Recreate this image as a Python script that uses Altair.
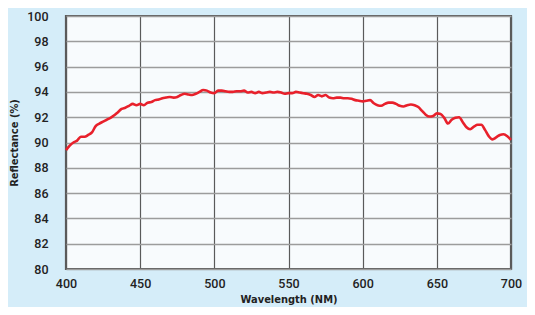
import altair as alt
import pandas as pd

wavelength = [400, 402.5, 405, 407.5, 410, 412.5, 415, 417.5, 420, 422.5, 425, 427.5, 430, 432.5, 435, 437.5, 440,
              442.5, 445, 447.5, 450, 452.5, 455, 457.5, 460, 462.5, 465, 467.5, 470, 472.5, 475, 477.5, 480,
              482.5, 485, 487.5, 490, 492.5, 495, 497.5, 500, 502.5, 505, 507.5, 510, 512.5, 515, 517.5, 520,
              522.5, 525, 527.5, 530, 532.5, 535, 537.5, 540, 542.5, 545, 547.5, 550, 552.5, 555, 557.5, 560,
              562.5, 565, 567.5, 570, 572.5, 575, 577.5, 580, 582.5, 585, 587.5, 590, 592.5, 595, 597.5, 600,
              602.5, 605, 607.5, 610, 612.5, 615, 617.5, 620, 622.5, 625, 627.5, 630, 632.5, 635, 637.5, 640,
              642.5, 645, 647.5, 650, 652.5, 655, 657.5, 660, 662.5, 665, 667.5, 670, 672.5, 675, 677.5, 680,
              682.5, 685, 687.5, 690, 692.5, 695, 697.5, 700]
reflectance = [89.4, 89.75, 90.0, 90.15, 90.45, 90.45, 90.6, 90.8, 91.3, 91.5, 91.65, 91.8, 91.95, 92.15, 92.4, 92.65, 92.75,
               92.9, 93.05, 92.95, 93.05, 92.95, 93.15, 93.2, 93.35, 93.4, 93.5, 93.55, 93.6, 93.55, 93.6, 93.75, 93.85,
               93.8, 93.75, 93.85, 94.0, 94.15, 94.1, 93.95, 93.9, 94.1, 94.1, 94.05, 94.0, 94.0, 94.05, 94.05, 94.1,
               93.95, 94.0, 93.9, 94.0, 93.9, 93.95, 94.0, 93.95, 94.0, 93.95, 93.85, 93.9, 93.9, 94.0, 93.95, 93.9,
               93.85, 93.75, 93.6, 93.75, 93.65, 93.75, 93.55, 93.5, 93.55, 93.55, 93.5, 93.5, 93.45, 93.35, 93.3, 93.25,
               93.3, 93.35, 93.1, 92.95, 92.9, 93.05, 93.15, 93.15, 93.05, 92.9, 92.85, 92.95, 93.0, 92.95, 92.8, 92.5,
               92.2, 92.05, 92.1, 92.3, 92.25, 91.95, 91.5, 91.8, 91.95, 92.0, 91.6, 91.2, 91.05, 91.25, 91.4, 91.4,
               91.0, 90.5, 90.25, 90.4, 90.6, 90.65, 90.5, 90.2]

df = pd.DataFrame({"Wavelength": wavelength, "Reflectance": reflectance})

x_ticks = [400, 450, 500, 550, 600, 650, 700]
y_ticks = [80, 82, 84, 86, 88, 90, 92, 94, 96, 98, 100]

font = "Roboto"
title_font = "DejaVu Sans Condensed, Roboto, sans-serif"

line = alt.Chart(df).mark_line(color="#e8202b", strokeWidth=2.6, interpolate="monotone").encode(
    x=alt.X("Wavelength:Q",
            scale=alt.Scale(domain=[400, 700], nice=False, zero=False),
            axis=alt.Axis(values=x_ticks, title="Wavelength (NM)", grid=True, gridColor="#5a5a5a",
                          gridWidth=1.2, ticks=False, domain=False, labelPadding=8,
                          labelFontSize=12.5, labelFont=font, labelFontWeight=500, labelColor="#222222",
                          titleFont=title_font, titleFontSize=11, titleFontWeight="bold",
                          titleColor="#222222", titleY=30, titleBaseline="middle", labelFlush=False)),
    y=alt.Y("Reflectance:Q",
            scale=alt.Scale(domain=[80, 100], nice=False, zero=False),
            axis=alt.Axis(values=y_ticks, title="Reflectance (%)", grid=True, gridColor="#9c9c9c",
                          gridWidth=1.6, ticks=False, domain=False, labelPadding=18,
                          labelFontSize=12.5, labelFont=font, labelFontWeight=500, labelColor="#222222",
                          titleFont=title_font, titleFontSize=11, titleFontWeight="bold",
                          titleColor="#222222", titleX=-52, titleY=126.5, titleAngle=270,
                          titleAlign="center", titleBaseline="middle", labelFlush=False)),
)

chart = line.properties(
    width=445,
    height=253,
    background="#d5edf9",
    padding={"left": 58, "top": 8, "right": 16, "bottom": 38},
    autosize=alt.AutoSizeParams(type="none"),
).configure_view(
    fill="#f8fbfd",
    stroke="#5a5a5a",
    strokeWidth=2.2,
)

chart.save("out.html", embed_options={"renderer": "svg", "actions": False})
